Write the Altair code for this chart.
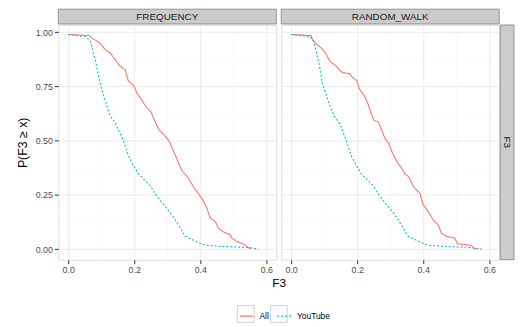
import altair as alt
import pandas as pd

methods = ["FREQUENCY", "RANDOM_WALK"]
groups = ["All", "YouTube"]
colors = ["#F8766D", "#00BFC4"]

freq_all_x = [0, 0.063, 0.072, 0.097, 0.112, 0.127, 0.142, 0.157, 0.172, 0.182, 0.199, 0.207, 0.221, 0.236, 0.251, 0.261, 0.276, 0.291, 0.301, 0.308, 0.316, 0.331, 0.344, 0.361, 0.376, 0.390, 0.405, 0.420, 0.430, 0.445, 0.455, 0.470, 0.490, 0.495, 0.509, 0.534, 0.544, 0.554]
freq_all_y = [0.99, 0.985, 0.973, 0.95, 0.92, 0.905, 0.874, 0.844, 0.829, 0.776, 0.753, 0.723, 0.692, 0.655, 0.632, 0.594, 0.548, 0.526, 0.508, 0.491, 0.462, 0.409, 0.363, 0.333, 0.295, 0.264, 0.234, 0.188, 0.143, 0.128, 0.097, 0.079, 0.067, 0.052, 0.036, 0.021, 0.009, 0.0]

freq_yt_x = [0, 0.053, 0.068, 0.078, 0.086, 0.093, 0.100, 0.107, 0.115, 0.122, 0.132, 0.142, 0.152, 0.162, 0.167, 0.182, 0.197, 0.212, 0.232, 0.251, 0.266, 0.286, 0.306, 0.321, 0.336, 0.354, 0.375, 0.395, 0.415, 0.465, 0.524, 0.554, 0.576]
freq_yt_y = [0.99, 0.98, 0.958, 0.897, 0.844, 0.791, 0.745, 0.708, 0.67, 0.632, 0.602, 0.586, 0.548, 0.518, 0.5, 0.432, 0.386, 0.348, 0.318, 0.287, 0.249, 0.211, 0.173, 0.143, 0.105, 0.059, 0.044, 0.029, 0.018, 0.012, 0.009, 0.006, 0.0]

rw_all_x = [0, 0.060, 0.065, 0.077, 0.092, 0.107, 0.117, 0.137, 0.147, 0.157, 0.177, 0.187, 0.199, 0.207, 0.221, 0.231, 0.241, 0.251, 0.264, 0.276, 0.284, 0.294, 0.306, 0.321, 0.336, 0.344, 0.356, 0.371, 0.390, 0.400, 0.415, 0.430, 0.445, 0.455, 0.470, 0.495, 0.504, 0.544, 0.554, 0.564]
rw_all_y = [0.99, 0.985, 0.965, 0.945, 0.927, 0.897, 0.867, 0.844, 0.824, 0.814, 0.809, 0.791, 0.776, 0.738, 0.708, 0.677, 0.632, 0.594, 0.586, 0.541, 0.511, 0.491, 0.447, 0.401, 0.371, 0.348, 0.333, 0.287, 0.257, 0.204, 0.173, 0.135, 0.112, 0.074, 0.059, 0.052, 0.024, 0.018, 0.003, 0.0]

rw_yt_x = [0, 0.058, 0.068, 0.078, 0.086, 0.095, 0.107, 0.117, 0.132, 0.147, 0.157, 0.167, 0.182, 0.197, 0.212, 0.232, 0.251, 0.266, 0.286, 0.306, 0.321, 0.336, 0.354, 0.375, 0.395, 0.415, 0.465, 0.524, 0.554, 0.576]
rw_yt_y = [0.99, 0.98, 0.958, 0.897, 0.844, 0.76, 0.708, 0.662, 0.609, 0.579, 0.541, 0.5, 0.432, 0.386, 0.348, 0.318, 0.287, 0.249, 0.211, 0.173, 0.143, 0.105, 0.059, 0.044, 0.029, 0.018, 0.012, 0.009, 0.006, 0.0]

x_ticks = [0, 0.1, 0.2, 0.3, 0.4, 0.5, 0.6]
y_ticks = [0, 0.125, 0.25, 0.375, 0.5, 0.625, 0.75, 0.875, 1.0]

series = [
    ("FREQUENCY", "All", freq_all_x, freq_all_y),
    ("FREQUENCY", "YouTube", freq_yt_x, freq_yt_y),
    ("RANDOM_WALK", "All", rw_all_x, rw_all_y),
    ("RANDOM_WALK", "YouTube", rw_yt_x, rw_yt_y),
]
rows = []
for m, g, xs, ys in series:
    for i, (xv, yv) in enumerate(zip(xs, ys)):
        rows.append({"method": m, "group": g, "F3": xv, "P": yv, "i": i})
df = pd.DataFrame(rows)

W, H = 221, 238
XDOM = [-0.03, 0.63]
YDOM = [-0.049, 1.034]
FONT = "Liberation Sans"
minor_x = "round(datum.value*10) % 2 == 1"
minor_y = "round(datum.value*8) % 2 == 1"

# legend placement (relative to left panel's plot area)
LX, LY = 183, 287


def x_axis(first):
    kw = dict(
        values=x_ticks, format=".1f",
        labelExpr="round(datum.value*10) % 2 == 1 ? '' : datum.label",
        tickOpacity={"condition": {"test": minor_x, "value": 0}, "value": 1},
        gridColor={"condition": {"test": minor_x, "value": "#f5f5f5"}, "value": "#ebebeb"},
        gridWidth={"condition": {"test": minor_x, "value": 0.6}, "value": 1},
        domain=False, tickSize=4, tickColor="#333333", labelColor="#4d4d4d",
        labelFontSize=9, labelFont=FONT, labelPadding=2,
        titleFont=FONT, titleFontSize=12, titleFontWeight="normal", titleColor="#000000",
    )
    if first:
        kw.update(title="F3", titleX=(2 * W + 5) / 2, titleAnchor="middle", titleAlign="center", titlePadding=3)
    else:
        kw.update(title=None)
    return alt.Axis(**kw)


def y_axis(first):
    kw = dict(
        values=y_ticks, format=".2f",
        labelExpr="round(datum.value*8) % 2 == 1 ? '' : datum.label",
        tickOpacity={"condition": {"test": minor_y, "value": 0}, "value": 1},
        gridColor={"condition": {"test": minor_y, "value": "#f5f5f5"}, "value": "#ebebeb"},
        gridWidth={"condition": {"test": minor_y, "value": 0.6}, "value": 1},
        domain=False, tickSize=4, tickColor="#333333", labelColor="#4d4d4d",
        labelFontSize=9, labelFont=FONT, labelPadding=2,
        titleFont=FONT, titleFontSize=12.5, titleFontWeight="normal", titleColor="#000000",
    )
    if first:
        kw.update(title="P(F3 ≥ x)", titlePadding=6)
    else:
        kw.update(title=None, labels=False, ticks=False)
    return alt.Axis(**kw)


def make_legend():
    return alt.Legend(title=None, orient="none", legendX=LX, legendY=LY,
                      direction="horizontal", symbolType="stroke",
                      symbolSize=196, symbolStrokeWidth=1.2, labelOffset=5,
                      labelFont=FONT, labelFontSize=8.5, labelColor="#000000",
                      columnPadding=5)


def panel(method, first, last):
    sub = df[df["method"] == method]
    lines = alt.Chart(sub).mark_line(strokeWidth=1.1, clip=True).encode(
        x=alt.X("F3:Q", scale=alt.Scale(domain=XDOM, nice=False, zero=False), axis=x_axis(first)),
        y=alt.Y("P:Q", scale=alt.Scale(domain=YDOM, nice=False, zero=False), axis=y_axis(first)),
        color=alt.Color("group:N", scale=alt.Scale(domain=groups, range=colors), legend=make_legend()),
        strokeDash=alt.StrokeDash("group:N", scale=alt.Scale(domain=groups, range=[[1, 0], [2, 2]]),
                                  legend=make_legend()),
        order="i:Q",
    )
    lab = pd.DataFrame({"label": [method]})
    strip = alt.Chart(lab).mark_rect(fill="#cccccc", stroke="#7f7f7f", strokeWidth=0.8).encode(
        x=alt.value(0), x2=alt.value(W), y=alt.value(-16), y2=alt.value(-1)
    )
    strip_text = alt.Chart(lab).mark_text(font=FONT, fontSize=10, fontWeight="normal", color="#1a1a1a",
                                          baseline="middle").encode(
        x=alt.value(W / 2), y=alt.value(-8), text="label:N"
    )
    layers = [lines, strip, strip_text]
    if first:
        # grey key boxes around legend symbols
        boxes = alt.Chart(pd.DataFrame({"group": groups})).mark_rect(
            fillOpacity=0, stroke="#d0d0d0", strokeWidth=1
        ).encode(
            x=alt.value(LX - 1.5), x2=alt.value(LX + 15.5), y=alt.value(LY - 2.5), y2=alt.value(LY + 14.5)
        ).transform_filter(alt.datum.group == "All")
        boxes2 = alt.Chart(pd.DataFrame({"group": groups})).mark_rect(
            fillOpacity=0, stroke="#d0d0d0", strokeWidth=1
        ).encode(
            x=alt.value(LX + 32), x2=alt.value(LX + 49), y=alt.value(LY - 2.5), y2=alt.value(LY + 14.5)
        ).transform_filter(alt.datum.group == "YouTube")
        layers += [boxes, boxes2]
    if last:
        rlab = pd.DataFrame({"label": ["F3"]})
        rstrip = alt.Chart(rlab).mark_rect(fill="#cccccc", stroke="#7f7f7f", strokeWidth=0.8).encode(
            x=alt.value(W + 1), x2=alt.value(W + 15), y=alt.value(0), y2=alt.value(H)
        )
        rtext = alt.Chart(rlab).mark_text(font=FONT, fontSize=10, fontWeight="normal", color="#1a1a1a",
                                          angle=90, baseline="middle").encode(
            x=alt.value(W + 8), y=alt.value(H / 2), text="label:N"
        )
        layers += [rstrip, rtext]
    return alt.layer(*layers).properties(width=W, height=H)


chart = alt.hconcat(
    panel("FREQUENCY", True, False),
    panel("RANDOM_WALK", False, True),
    spacing=5, bounds="flush",
).properties(
    padding={"left": 7, "top": -2, "right": 0, "bottom": 0}
).configure_view(stroke=None).configure(background="white")

chart.save("out.html", embed_options={"renderer": "svg", "actions": False})
